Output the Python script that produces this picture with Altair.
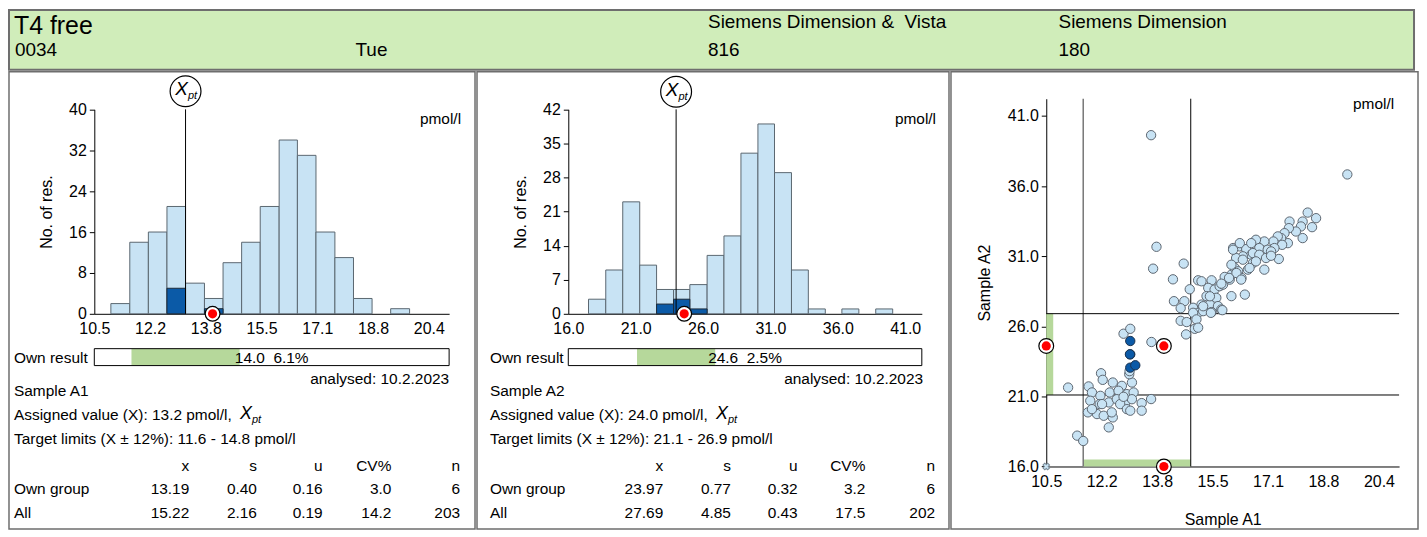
import altair as alt
import pandas as pd

FONT = "Liberation Sans"
LIGHT = "#c8e3f4"
DARK = "#0b5aa7"
EDGE = "#5b6770"
GREEN = "#b6d89b"
HEAD_GREEN = "#d0edba"
FRAME = "#6e6e6e"

# ---------------- header texts
analyte = "T4 free"
lab_id = "0034"
weekday = "Tue"
method_group = "Siemens Dimension &\u00a0 Vista"
method_n = "816"
device_group = "Siemens Dimension"
device_n = "180"
unit = "pmol/l"
analysed = "analysed: 10.2.2023"

# ---------------- Sample A1 histogram
a1_lo = [10.99, 11.55, 12.10, 12.65, 13.20, 13.76, 14.31, 14.86, 15.41, 15.97, 16.51, 17.06, 17.62, 18.17, 18.72, 19.27]
a1_hi = [11.55, 12.10, 12.65, 13.20, 13.76, 14.31, 14.86, 15.41, 15.97, 16.51, 17.06, 17.62, 18.17, 18.72, 19.27, 19.83]
a1_all = [2, 14, 16, 21, 6, 3, 10, 14, 21, 34, 31, 16, 11, 3, 0, 1]
a1_own = [0, 0, 0, 5, 0, 1, 0, 0, 0, 0, 0, 0, 0, 0, 0, 0]
a1_xpt = 13.2
a1_result = 14.0
a1_limits = [11.6, 14.8]
a1_domain = [10.5, 21.0]
a1_ticks = [10.5, 12.15, 13.8, 15.45, 17.1, 18.75, 20.4]
a1_tick_labels = ["10.5", "12.2", "13.8", "15.5", "17.1", "18.8", "20.4"]
a1_count_max = 40
a1_count_ticks = [0, 8, 16, 24, 32, 40]
a1_result_text = "14.0\u00a0 6.1%"
a1_sample = "Sample A1"
a1_assigned = "Assigned value (X): 13.2 pmol/l,"
a1_target = "Target limits (X \u00b1 12%): 11.6 - 14.8 pmol/l"
a1_own_stats = ["13.19", "0.40", "0.16", "3.0", "6"]
a1_all_stats = ["15.22", "2.16", "0.19", "14.2", "203"]

# ---------------- Sample A2 histogram
a2_lo = [17.50, 18.78, 20.04, 21.30, 22.55, 23.81, 25.02, 26.30, 27.55, 28.81, 30.07, 31.30, 32.56, 33.81, 35.07, 36.30, 37.56, 38.81]
a2_hi = [18.78, 20.04, 21.30, 22.55, 23.81, 25.02, 26.30, 27.55, 28.81, 30.07, 31.30, 32.56, 33.81, 35.07, 36.30, 37.56, 38.81, 40.07]
a2_all = [3, 9, 23, 10, 5, 5, 6, 12, 16, 33, 39, 29, 9, 1, 0, 1, 0, 1]
a2_own = [0, 0, 0, 0, 2, 3, 1, 0, 0, 0, 0, 0, 0, 0, 0, 0, 0, 0]
a2_xpt = 24.0
a2_result = 24.6
a2_limits = [21.1, 26.9]
a2_domain = [16.0, 42.23]
a2_ticks = [16.0, 21.0, 26.0, 31.0, 36.0, 41.0]
a2_tick_labels = ["16.0", "21.0", "26.0", "31.0", "36.0", "41.0"]
a2_count_max = 42
a2_count_ticks = [0, 7, 14, 21, 28, 35, 42]
a2_result_text = "24.6\u00a0 2.5%"
a2_sample = "Sample A2"
a2_assigned = "Assigned value (X): 24.0 pmol/l,"
a2_target = "Target limits (X \u00b1 12%): 21.1 - 26.9 pmol/l"
a2_own_stats = ["23.97", "0.77", "0.32", "3.2", "6"]
a2_all_stats = ["27.69", "4.85", "0.43", "17.5", "202"]

stat_cols = ["x", "s", "u", "CV%", "n"]
row_names = ["Own group", "All"]

# ---------------- Youden plot (A1 vs A2), all labs
sc_a1 = [13.62, 19.46, 13.78, 13.68, 14.59, 14.27, 14.77, 14.30, 14.61, 14.50, 14.50, 14.68, 14.66, 13.63, 11.15, 11.42, 11.60, 12.80, 13.00, 13.62,
         12.13, 12.18, 12.48, 12.75, 13.05, 12.97, 11.76, 11.86, 12.11, 12.39, 12.65, 12.90, 13.10, 11.81, 12.09, 12.36, 12.60, 12.85, 13.05, 13.34,
         11.74, 12.01, 12.21, 12.48, 12.16, 12.70, 12.90, 13.00, 13.34, 12.36, 11.86, 12.45, 12.80, 12.98,
         15.02, 15.12, 15.42, 15.32, 15.51, 15.66, 15.76, 15.27, 15.56, 15.12, 15.37, 15.61, 14.87, 15.02, 15.17, 15.42, 15.71, 14.87, 14.97, 14.92,
         15.96, 16.01, 16.11, 16.21, 16.31, 16.50, 16.06, 16.25, 16.45, 16.60, 16.35, 16.15, 16.65, 16.01, 16.41, 15.81,
         18.28, 18.53, 18.41, 18.13, 18.08, 17.93, 17.74, 17.72, 17.59, 18.13, 17.69, 17.49, 17.39, 17.26, 17.52, 17.29, 17.42, 16.99, 16.74, 16.60,
         16.84, 17.09, 17.19, 16.65, 16.84, 17.04, 16.74, 16.99, 16.55, 17.19,
         16.26, 16.06, 16.35, 16.01, 16.16, 15.94, 16.30, 15.71, 15.37, 15.17, 15.40, 15.74, 15.02]
sc_a2 = [39.63, 36.83, 31.67, 30.11, 30.47, 29.35, 28.64, 27.79, 27.79, 27.29, 26.39, 26.30, 25.42, 24.88, 21.63, 18.20, 17.82, 25.47, 25.82, 20.81,
         22.65, 22.18, 21.99, 21.75, 21.99, 22.58, 21.71, 21.28, 21.04, 21.28, 21.40, 21.16, 21.28, 20.69, 20.45, 20.57, 20.80, 20.57, 20.80, 20.52,
         19.86, 19.74, 19.62, 19.50, 20.45, 20.45, 20.09, 19.98, 19.98, 18.79, 20.09, 19.86, 20.97, 22.80,
         29.28, 29.21, 29.28, 28.74, 28.62, 28.86, 28.97, 28.15, 28.03, 27.55, 27.55, 27.44, 27.32, 26.96, 27.08, 27.01, 27.20, 26.96, 26.49, 25.82,
         29.33, 29.68, 30.16, 29.92, 29.45, 30.04, 31.58, 31.70, 31.51, 31.10, 30.99, 30.87, 30.51, 28.15, 28.26, 29.52,
         34.11, 33.71, 33.07, 33.47, 33.12, 32.76, 33.47, 33.00, 32.64, 32.29, 31.93, 32.29, 32.41, 32.05, 31.81, 31.58, 30.80, 32.05, 32.17, 31.93,
         31.58, 31.46, 31.34, 31.22, 31.10, 30.87, 30.63, 30.04, 30.16, 31.03,
         31.93, 31.46, 30.75, 30.39, 29.80, 29.45, 29.33, 29.04, 28.14, 27.43, 26.96, 27.15, 25.90]
own_a1 = [13.00, 13.00, 13.00, 13.15, 12.99]
own_a2 = [24.95, 24.00, 23.05, 23.22, 24.00]
sc_domain_a1 = [10.5, 21.0]
sc_domain_a2 = [16.0, 42.23]
sc_a2_ticks = [16.0, 21.0, 26.0, 31.0, 36.0, 41.0]
sc_a2_tick_labels = ["16.0", "21.0", "26.0", "31.0", "36.0", "41.0"]

# ---------------- layout
H = 459
W1, W2, W3 = 468, 474, 469
HEAD_H = 60
ONE = pd.DataFrame({"k": [0]})


def txt(s, x, y, size=15.5, align="left", style="normal", color="black"):
    return alt.Chart(ONE).mark_text(
        text=s, align=align, baseline="middle", font=FONT, fontSize=size,
        fontStyle=style, color=color
    ).encode(x=alt.value(x), y=alt.value(y))


def label_expr(vals, labels):
    return ("[" + ",".join("'%s'" % l for l in labels) + "][indexof(["
            + ",".join(repr(v) for v in vals) + "], datum.value)]")


def axis_x(vals, labels, offset, title=None, title_pad=0):
    return alt.Axis(values=vals, labelExpr=label_expr(vals, labels), orient="bottom",
                    offset=offset, grid=False, ticks=True, tickSize=0, labelPadding=7,
                    labelFontSize=16, labelFont=FONT, labelColor="black",
                    domainColor="black", labelFlush=False, labelOverlap=False,
                    title=title if title else "", titlePadding=title_pad,
                    titleFontSize=16, titleFont=FONT, titleFontWeight="normal",
                    titleColor="black")


def axis_y(vals, labels, offset, title, title_pad):
    return alt.Axis(values=vals, labelExpr=label_expr(vals, labels), orient="left",
                    offset=offset, grid=False, tickSize=5, tickColor="black",
                    labelPadding=3, labelFontSize=16, labelFont=FONT,
                    labelColor="black", domainColor="black", labelFlush=False,
                    labelOverlap=False, title=title, titlePadding=title_pad,
                    titleFontSize=16, titleFont=FONT, titleFontWeight="normal",
                    titleColor="black")


def result_marker(df, xf, yf):
    ring = alt.Chart(df).mark_point(shape="circle", filled=True, fill="white",
                                    stroke="black", strokeWidth=1.2, size=220,
                                    opacity=1).encode(x=xf, y=yf)
    dot = alt.Chart(df).mark_point(shape="circle", filled=True, fill="#ff0000",
                                   size=85, opacity=1).encode(x=xf, y=yf)
    return [ring, dot]


def hist_panel(W, lo, hi, n_all, n_own, dom, rng, ymax, yticks, xticks, xlabels,
               xpt, result, limits, result_text, sample, assigned, target,
               own_stats, all_stats, tx, cols, analysed_x, circ_y, pm_x):
    xs = alt.Scale(domain=dom, range=rng, nice=False, zero=False)
    ys = alt.Scale(domain=[0, ymax], range=[243, 37.67], nice=False, zero=False)
    xax = axis_x(xticks, xlabels, -(H - 243))
    yax = axis_y(yticks, [str(v) for v in yticks], -rng[0], "No. of res.", 14)

    def X(f):
        return alt.X(f, scale=xs, axis=xax)

    def Y(f=None, datum=None):
        if datum is not None:
            return alt.Y(datum=datum, scale=ys, axis=yax)
        return alt.Y(f, scale=ys, axis=yax)

    df = pd.DataFrame({"lo": lo, "hi": hi, "n": n_all, "own": n_own})
    layers = []
    layers.append(alt.Chart(df).transform_filter("datum.n > 0").mark_rect(
        fill=LIGHT, stroke=EDGE, strokeWidth=1).encode(
        x=X("lo:Q"), x2="hi:Q", y=Y("n:Q"), y2=alt.Y2(datum=0)))
    layers.append(alt.Chart(df).transform_filter("datum.own > 0").mark_rect(
        fill=DARK, stroke="#1c2a38", strokeWidth=1).encode(
        x=X("lo:Q"), x2="hi:Q", y=Y("own:Q"), y2=alt.Y2(datum=0)))
    xdf = pd.DataFrame({"xpt": [xpt], "res": [result]})
    layers.append(alt.Chart(xdf).mark_rule(color="black", strokeWidth=1).encode(
        x=X("xpt:Q"), y=Y(datum=ymax), y2=alt.Y2(datum=0)))
    layers.append(alt.Chart(xdf).mark_point(
        shape="circle", filled=True, fill="white", stroke="black", strokeWidth=1.2,
        size=960, opacity=1).encode(x=X("xpt:Q"), y=alt.value(circ_y)))
    layers.append(alt.Chart(xdf).mark_text(
        text="X", font=FONT, fontStyle="italic", fontSize=19, dx=-4, dy=-2,
        color="black").encode(x=X("xpt:Q"), y=alt.value(circ_y)))
    layers.append(alt.Chart(xdf).mark_text(
        text="pt", font=FONT, fontStyle="italic", fontSize=11, dx=7, dy=5,
        color="black").encode(x=X("xpt:Q"), y=alt.value(circ_y)))
    layers += result_marker(xdf, X("res:Q"), Y(datum=0))
    layers.append(txt(unit, pm_x, 47, size=15.5, align="right"))
    # own-result bar
    bdf = pd.DataFrame({"lo": [dom[0]], "hi": [dom[1]], "tlo": [limits[0]], "thi": [limits[1]]})
    layers.append(alt.Chart(bdf).mark_rect(fill="white").encode(
        x=X("lo:Q"), x2="hi:Q", y=alt.value(278), y2=alt.value(295)))
    layers.append(alt.Chart(bdf).mark_rect(fill=GREEN).encode(
        x=X("tlo:Q"), x2="thi:Q", y=alt.value(278), y2=alt.value(295)))
    layers.append(alt.Chart(bdf).mark_rect(fillOpacity=0, stroke="black", strokeWidth=1).encode(
        x=X("lo:Q"), x2="hi:Q", y=alt.value(278), y2=alt.value(295)))
    layers.append(txt(result_text, (rng[0] + rng[1]) / 2, 287, align="center"))
    layers.append(txt("Own result", tx, 287))
    layers.append(txt(analysed, analysed_x, 308, align="right"))
    layers.append(txt(sample, tx, 321))
    layers.append(txt(assigned, tx, 345))
    layers.append(txt("X", tx + 227, 344, size=18, style="italic"))
    layers.append(txt("pt", tx + 239, 350, size=11, style="italic"))
    layers.append(txt(target, tx, 369))
    for c, name in zip(cols, stat_cols):
        layers.append(txt(name, c, 396, align="right"))
    for ry, rname, vals in [(419, row_names[0], own_stats), (443, row_names[1], all_stats)]:
        layers.append(txt(rname, tx, ry))
        for c, v in zip(cols, vals):
            layers.append(txt(v, c, ry, align="right"))
    return alt.layer(*layers).properties(
        width=W, height=H,
        view=alt.ViewBackground(fill="white", stroke=FRAME, strokeWidth=1.5))


p1 = hist_panel(W1, a1_lo, a1_hi, a1_all, a1_own, a1_domain, [85.67, 442.0],
                a1_count_max, a1_count_ticks, a1_ticks, a1_tick_labels, a1_xpt,
                a1_result, a1_limits, a1_result_text, a1_sample, a1_assigned,
                a1_target, a1_own_stats, a1_all_stats, 5,
                [181, 249, 315, 384, 453], 442, 19.5, 454)
p2 = hist_panel(W2, a2_lo, a2_hi, a2_all, a2_own, a2_domain, [91.67, 446.7],
                a2_count_max, a2_count_ticks, a2_ticks, a2_tick_labels, a2_xpt,
                a2_result, a2_limits, a2_result_text, a2_sample, a2_assigned,
                a2_target, a2_own_stats, a2_all_stats, 13,
                [187, 255, 322, 390, 460], 448, 20, 461)

# ---------------- scatter panel
xs3 = alt.Scale(domain=sc_domain_a1, range=[95.67, 450.0], nice=False, zero=False)
ys3 = alt.Scale(domain=sc_domain_a2, range=[396.33, 27.0], nice=False, zero=False)
xax3 = axis_x(a1_ticks, a1_tick_labels, -(H - 396.33), "Sample A1", 22)
yax3 = axis_y(sc_a2_ticks, sc_a2_tick_labels, -95.67, "Sample A2", 15)


def SX(f=None, datum=None):
    if datum is not None:
        return alt.X(datum=datum, scale=xs3, axis=xax3)
    return alt.X(f, scale=xs3, axis=xax3)


def SY(f=None, datum=None):
    if datum is not None:
        return alt.Y(datum=datum, scale=ys3, axis=yax3)
    return alt.Y(f, scale=ys3, axis=yax3)


sdf = pd.DataFrame({"a1": sc_a1, "a2": sc_a2})
odf = pd.DataFrame({"a1": own_a1, "a2": own_a2})
lim = pd.DataFrame({"x1": [a1_limits[0]], "x2": [a1_limits[1]],
                    "y1": [a2_limits[0]], "y2": [a2_limits[1]]})
res = pd.DataFrame({"a1": [a1_result], "a2": [a2_result],
                    "amin": [sc_domain_a1[0]], "bmin": [sc_domain_a2[0]]})

sl = []
sl.append(alt.Chart(lim).mark_rect(fill=GREEN).encode(
    x=SX("x1:Q"), x2="x2:Q", y=SY(datum=sc_domain_a2[0]), y2=alt.value(389.3)))
sl.append(alt.Chart(lim).mark_rect(fill=GREEN).encode(
    x=SX(datum=sc_domain_a1[0]), x2=alt.value(102.67), y=SY("y1:Q"), y2="y2:Q"))
sl.append(alt.Chart(lim).mark_rule(color="#777777", strokeWidth=1.5).encode(
    x=SX("x1:Q"), y=SY(datum=sc_domain_a2[0]), y2=alt.Y2(datum=sc_domain_a2[1])))
sl.append(alt.Chart(lim).mark_rule(color="black", strokeWidth=1).encode(
    x=SX("x2:Q"), y=SY(datum=sc_domain_a2[0]), y2=alt.Y2(datum=sc_domain_a2[1])))
for f in ["y1", "y2"]:
    sl.append(alt.Chart(lim).mark_rule(color="black", strokeWidth=1).encode(
        y=SY(f + ":Q"), x=SX(datum=sc_domain_a1[0]), x2=alt.X2(datum=sc_domain_a1[1])))
sl.append(alt.Chart(sdf).mark_circle(size=88, fill=LIGHT, stroke="#5d6670",
                                     strokeWidth=1, opacity=1).encode(
    x=SX("a1:Q"), y=SY("a2:Q")))
sl.append(alt.Chart(odf).mark_circle(size=88, fill=DARK, stroke="#1c3350",
                                     strokeWidth=1, opacity=1).encode(
    x=SX("a1:Q"), y=SY("a2:Q")))
sl.append(alt.Chart(res).mark_point(shape="cross", angle=45, size=45, filled=True,
                                    fill=LIGHT, stroke="#7a8a96", strokeWidth=1,
                                    opacity=1).encode(
    x=SX("amin:Q"), y=SY("bmin:Q")))
sl += result_marker(res, SX("a1:Q"), SY("a2:Q"))
sl += result_marker(res, SX("amin:Q"), SY("a2:Q"))
sl += result_marker(res, SX("a1:Q"), SY("bmin:Q"))
sl.append(txt(unit, 445, 32, align="right"))
p3 = alt.layer(*sl).properties(
    width=W3, height=H,
    view=alt.ViewBackground(fill="white", stroke=FRAME, strokeWidth=1.5))

# ---------------- header
header = alt.layer(
    txt(analyte, 5, 16, size=25),
    txt(lab_id, 6, 40, size=19),
    txt(weekday, 348, 40, size=19),
    txt(method_group, 702, 12, size=19),
    txt(method_n, 702, 40, size=19),
    txt(device_group, 1054, 12, size=19),
    txt(device_n, 1054, 40, size=19),
).properties(width=W1 + W2 + W3, height=HEAD_H,
             view=alt.ViewBackground(fill=HEAD_GREEN, stroke=FRAME, strokeWidth=2))

chart = alt.vconcat(
    header,
    alt.hconcat(p1, p2, p3, spacing=0),
    spacing=0,
).properties(padding=0).configure_text(font=FONT)

chart.save("out.html", embed_options={"renderer": "svg", "actions": False})
